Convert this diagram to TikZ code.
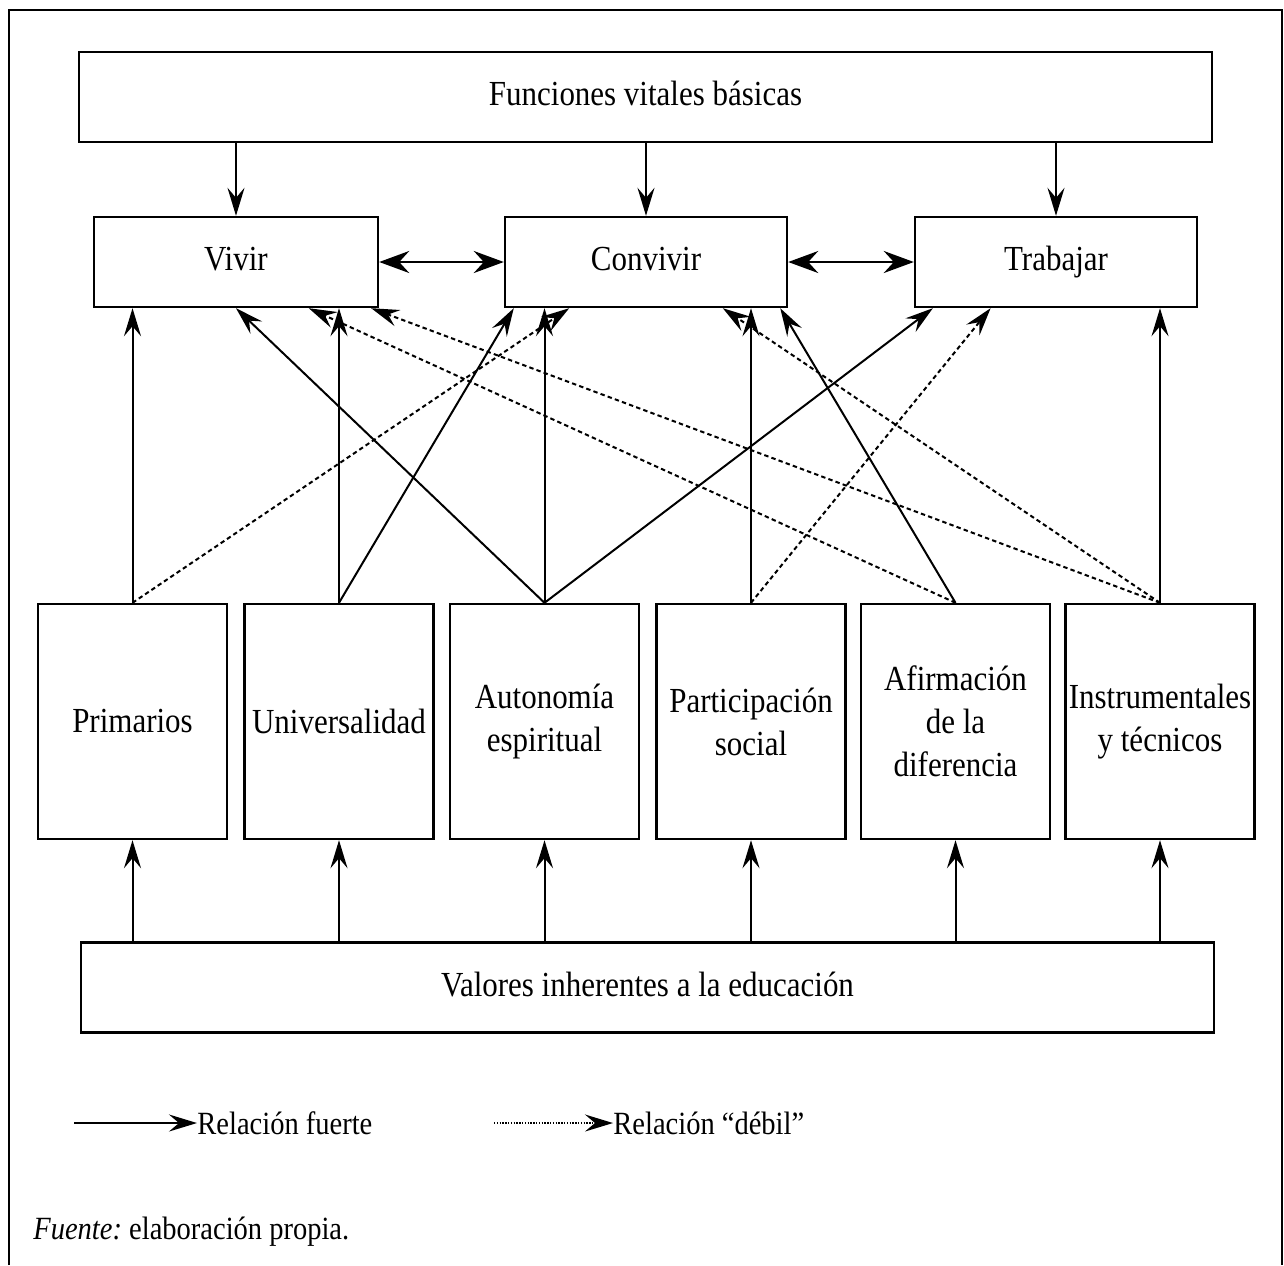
\documentclass[tikz,border=0pt]{standalone}
\usepackage{fontspec}
\setmainfont{Liberation Serif}[FakeStretch=0.88]
\frenchspacing
\usetikzlibrary{arrows.meta,calc}
\begin{document}
\begin{tikzpicture}[x=0.5pt,y=-0.5pt,
  >={Stealth[length=14pt,width=8.5pt,inset=5pt]},
  box/.style={draw,line width=1.2pt,inner sep=0pt,align=flush center,
    font=\fontsize{17.6}{21.5}\selectfont},
  wide/.style={box,minimum width=566.5pt,minimum height=45pt,
    text height=12.5pt,text depth=4pt},
  mid/.style={box,minimum width=141pt,minimum height=45pt,
    text height=12.5pt,text depth=4pt},
  val/.style={box,minimum width=94.5pt,minimum height=117.5pt,text width=94pt},
  strong/.style={->,line width=1pt},
  weak/.style={->,line width=1pt,dash pattern=on 2.2pt off 1.6pt},
  link/.style={<->,line width=1.3pt,>={Stealth[length=15pt,width=11pt,inset=5pt]}},
  legend/.style={inner sep=0pt,font=\fontsize{16.2}{19}\selectfont},
]
\useasboundingbox (0,0) rectangle (1284,1265);

% open frame around the figure
\draw[line width=1pt] (9,1265) -- (9,10) -- (1282,10) -- (1282,1265);

% top level
\node[wide] (fun) at (645.5,97) {Funciones vitales básicas};

% the three vital functions
\node[mid,minimum width=142pt] (viv) at (236,262) {Vivir};
\node[mid] (con) at (646,262) {Convivir};
\node[mid] (tra) at (1056,262) {Trabajar};

% value groups
\node[val] (pri) at (132.5,721.5) {Primarios};
\node[val] (uni) at (339,721.5) {Universalidad};
\node[val] (aut) at (544.5,721.5) {Autonomía\\espiritual};
\node[val] (par) at (751,721.5) {Participación\\social};
\node[val] (afi) at (955.5,721.5) {Afirmación\\de la\\diferencia};
\node[val] (ins) at (1160,721.5) {Instrumentales\\y técnicos};

% base
\node[wide] (edu) at (647.5,987.5) {Valores inherentes a la educación};

% top-down links
\foreach \m in {viv,con,tra}
  \draw[strong] (fun.south -| \m.north) -- (\m.north);
\draw[link] (viv.east) -- (con.west);
\draw[link] (con.east) -- (tra.west);

% base to value groups
\foreach \v in {pri,uni,aut,par,afi,ins}
  \draw[strong] (\v.south |- edu.north) -- (\v.south);

% value groups to vital functions
\draw[strong] (pri.north) -- (pri.north |- viv.south);
\draw[weak]   (pri.north) -- ($(con.south west)!0.23!(con.south east)$);
\draw[strong] (uni.north) -- (uni.north |- viv.south);
\draw[strong] (uni.north) -- ($(con.south west)!0.035!(con.south east)$);
\draw[strong] (aut.north) -- (viv.south);
\draw[strong] (aut.north) -- (aut.north |- con.south);
\draw[strong] (aut.north) -- ($(tra.south west)!0.067!(tra.south east)$);
\draw[strong] (par.north) -- (par.north |- con.south);
\draw[weak]   (par.north) -- ($(tra.south west)!0.27!(tra.south east)$);
\draw[weak]   (afi.north) -- ($(viv.south west)!0.754!(viv.south east)$);
\draw[strong] (afi.north) -- ($(con.south west)!0.972!(con.south east)$);
\draw[weak]   (ins.north) -- ($(viv.south west)!0.972!(viv.south east)$);
\draw[weak]   (ins.north) -- ($(con.south west)!0.77!(con.south east)$);
\draw[strong] (ins.north) -- (ins.north |- tra.south);

% legend
\node[legend,anchor=west] (lf) at (197,1123) {Relación fuerte};
\coordinate (lfs) at (74,1123);
\draw[strong] (lfs) -- (lf.west);
\node[legend,anchor=west] (ld) at (613,1123) {Relación “débil”};
\coordinate (lds) at (494,1123);
\draw[->,line width=0.8pt,dash pattern=on 0.7pt off 0.7pt] (lds) -- (ld.west);

% source note
\node[legend,anchor=base west] (src) at (33,1239) {\textit{Fuente:} elaboración propia.};
\end{tikzpicture}
\end{document}
